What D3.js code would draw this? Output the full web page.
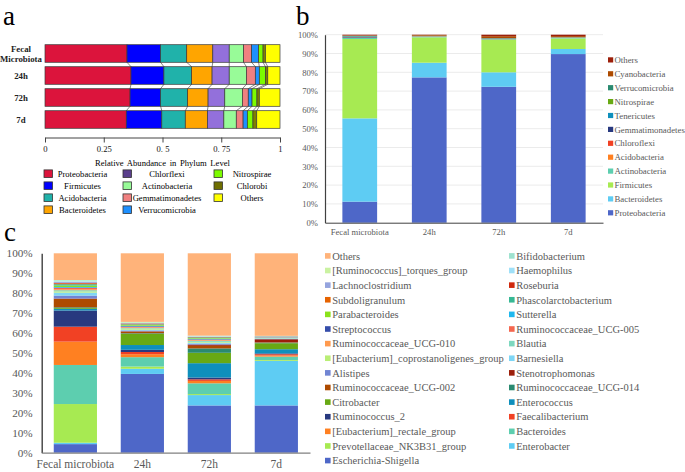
<!DOCTYPE html>
<html><head><meta charset="utf-8">
<script src="https://cdn.jsdelivr.net/npm/d3@7"></script>
<style>
body{margin:0;background:#fff}
svg{display:block}
text{font-family:"Liberation Serif","Times New Roman",serif}
</style>
</head><body>
<svg id="chart" width="685" height="472"></svg>
<script>
// ---------- Panel a data ----------
const aCategories = ["Fecal Microbiota", "24h", "72h", "7d"];
const aPhyla = ["Proteobacteria","Firmicutes","Acidobacteria","Bacteroidetes","Chlorflexi","Actinobacteria","Gemmatimonadetes","Verrucomicrobia","Nitrospirae","Chlorobi","Others"];
const aFecal = [0.349,0.143,0.111,0.111,0.070,0.061,0.034,0.030,0.019,0.010,0.062];
const a24h   = [0.366,0.140,0.118,0.087,0.073,0.073,0.038,0.017,0.026,0.010,0.052];
const a72h   = [0.362,0.130,0.115,0.087,0.071,0.075,0.025,0.016,0.021,0.010,0.088];
const a7d    = [0.346,0.151,0.100,0.094,0.070,0.053,0.029,0.018,0.024,0.016,0.099];
const aTicks = [0, 0.25, 0.5, 0.75, 1];
const aTickLabels = ["0", "0.25", "0. 5", "0. 75", "1"];
const aColors = ["#DC143C","#0000FF","#20B2AA","#FFA500","#9370DB","#98FB98","#F08080","#1E90FF","#7CFC00","#808000","#FFFF00"];
const aLegendColors = ["#DC143C","#0000FF","#20B2AA","#FFA500","#5A3F8C","#98FB98","#F08080","#1E90FF","#7CFC00","#6E6E00","#FFFF00"];

// ---------- Panel b data ----------
const bCategories = ["Fecal microbiota", "24h", "72h", "7d"];
const bPhyla = ["Proteobacteria","Bacteroidetes","Firmicutes","Actinobacteria","Acidobacteria","Chloroflexi","Gemmatimonadetes","Tenericutes","Nitrospirae","Verrucomicrobia","Cyanobacteria","Others"];
const bFecal = [11.2,44.3,42.2,0.6,0.1,0.1,0.3,0.2,0.1,0.3,0.2,0.4];
const b24h   = [77.3,7.8,13.5,0.4,0.1,0.1,0.05,0.05,0.05,0.1,0.4,0.15];
const b72h   = [72.3,7.7,17.2,0.4,0.1,0.1,0.05,0.1,0.05,0.2,1.0,0.8];
const b7d    = [89.7,2.7,5.6,0.3,0.1,0.1,0.05,0.05,0.05,0.1,0.5,0.75];
const bColors = ["#4E67C8","#5ECCF3","#A7EA52","#5DCEAF","#FF8021","#F14124","#28397F","#0E8FBC","#68A914","#2A8A70","#AD4A00","#9C1F0A"];
const pctTicks = [0,10,20,30,40,50,60,70,80,90,100];

// ---------- Panel c data ----------
const cCategories = ["Fecal microbiota", "24h", "72h", "7d"];
const cGenera = ["Escherichia-Shigella","Enterobacter","Prevotellaceae_NK3B31_group","Bacteroides","[Eubacterium]_rectale_group","Faecalibacterium","Ruminococcus_2","Enterococcus","Citrobacter","Ruminococcaceae_UCG-014","Ruminococcaceae_UCG-002","Stenotrophomonas","Alistipes","Barnesiella","[Eubacterium]_coprostanoligenes_group","Blautia","Ruminococcaceae_UCG-010","Ruminococcaceae_UCG-005","Streptococcus","Sutterella","Parabacteroides","Phascolarctobacterium","Subdoligranulum","Roseburia","Lachnoclostridium","Haemophilus","[Ruminococcus]_torques_group","Bifidobacterium","Others"];
const cFecal = [4.3,0.7,19.4,19.6,11.7,7.5,8.1,0.8,0.4,0.4,4.2,0.2,1.5,1.5,0.6,0.6,0.5,0.6,0.2,0.3,0.7,0.7,0.4,0.3,0.5,0.3,0.3,0.3,13.4];
const c24h   = [39.5,2.6,1.1,4.7,1.5,1.1,1.1,2.4,5.6,0.3,0.8,0.2,0.4,0.4,0.5,0.3,0.3,0.3,0.3,0.3,0.4,0.3,0.2,0.2,0.2,0.1,0.3,0.2,34.4];
const c72h   = [23.7,5.2,0.5,5.4,1.2,0.8,0.9,7.2,5.2,2.2,1.3,0.6,0.5,0.5,0.4,0.5,0.3,0.3,0.2,0.3,0.3,0.3,0.1,0.1,0.2,0.2,0.1,0.2,41.3];
const c7d    = [23.7,22.4,0.4,1.7,0.6,0.6,0.4,2.1,3.0,0.3,0.2,1.5,0.2,0.2,0.1,0.3,0.1,0.1,0.05,0.1,0.05,0.1,0.05,0.05,0.15,0.05,0.05,0.05,41.4];
const cColors = ["#4E67C8","#5ECCF3","#A7EA52","#5DCEAF","#FF8021","#F14124","#28397F","#0E8FBC","#68A914","#2A8A70","#AD4A00","#9C1F0A","#7185D3","#7ED6F5","#B9EE75","#7DD8BF","#FF9A4E","#F4674F","#354DAA","#1FB8EE","#8AE21B","#37B894","#E66300","#D0290D","#95A4DE","#9FE0F8","#CAF2A1","#9EE2CF","#FFB37A"];

const svg = d3.select("#chart");
const SERIF = '"Liberation Serif","Times New Roman",serif';
const GREY = "#595959";

function makeTable(cats, keys, rows) {
  return cats.map((c, i) => {
    const o = {cat: c};
    keys.forEach((k, j) => o[k] = rows[i][j]);
    return o;
  });
}

// ================= Panel a =================
(function(){
  const g = svg.append("g");
  g.append("text").attr("x", 3).attr("y", 24.5).attr("font-size", 27).text("a");
  const x = d3.scaleLinear().domain([0,1]).range([45, 280]);
  const y = d3.scaleBand().domain(aCategories).range([42.5, 130.5]).paddingInner(0.2).paddingOuter(0.1);
  const table = makeTable(aCategories, aPhyla, [aFecal, a24h, a72h, a7d]);
  const series = d3.stack().keys(aPhyla)(table);

  // connecting lines between bars
  for (let i = 0; i < aCategories.length - 1; i++) {
    for (let k = 0; k < series.length - 1; k++) {
      g.append("line")
        .attr("x1", x(series[k][i][1])).attr("y1", y(aCategories[i]) + y.bandwidth())
        .attr("x2", x(series[k][i+1][1])).attr("y2", y(aCategories[i+1]))
        .attr("stroke", "#6a6a6a").attr("stroke-width", 0.8);
    }
  }
  series.forEach((s, k) => {
    g.selectAll(null).data(s).enter().append("rect")
      .attr("x", d => x(d[0])).attr("width", d => x(d[1]) - x(d[0]))
      .attr("y", d => y(d.data.cat)).attr("height", y.bandwidth())
      .attr("fill", aColors[k]).attr("stroke", "#3a3a3a").attr("stroke-width", 0.7);
  });

  // category labels
  aCategories.forEach(c => {
    const cy = y(c) + y.bandwidth()/2;
    const parts = c.split(" ");
    const t = g.append("text").attr("text-anchor", "middle").attr("font-size", 8.8).attr("font-weight", "bold").attr("fill", "#222");
    if (parts.length > 1) {
      parts.forEach((p, i) => t.append("tspan").attr("x", 21).attr("y", cy + (i === 0 ? -5 : 5.5)).attr("dy", "0.35em").text(p));
    } else {
      t.attr("x", 21).attr("y", cy).attr("dy", "0.35em").text(c);
    }
  });

  const ax = g.append("g").attr("transform", "translate(0,137.5)")
    .call(d3.axisBottom(x).tickValues(aTicks).tickFormat((d, i) => aTickLabels[i]).tickSize(5).tickSizeOuter(0));
  ax.select(".domain").attr("stroke", "#444");
  ax.selectAll(".tick line").attr("stroke", "#444");
  ax.selectAll("text").attr("font-family", SERIF).attr("font-size", 8.6).attr("fill", "#111");

  g.append("text").attr("x", 162.5).attr("y", 163).attr("dy", "0.35em").attr("text-anchor", "middle")
    .attr("font-size", 8.6).attr("word-spacing", 1.5).text("Relative Abundance in Phylum Level");

  // legend
  const colSw = [44, 123, 214], colTx = [82.5, 167, 252];
  aPhyla.forEach((p, i) => {
    const col = Math.floor(i / 4), row = i % 4;
    const cy = 173.7 + row * 12;
    g.append("rect").attr("x", colSw[col]).attr("y", cy - 3.8).attr("width", 8.5).attr("height", 7.6)
      .attr("fill", aLegendColors[i]).attr("stroke", "#333").attr("stroke-width", 0.8);
    g.append("text").attr("x", colTx[col]).attr("y", cy).attr("dy", "0.35em").attr("text-anchor", "middle")
      .attr("font-size", 8.6).text(p);
  });
})();

// ================= Panel b =================
(function(){
  const g = svg.append("g");
  g.append("text").attr("x", 296).attr("y", 24.5).attr("font-size", 27).text("b");
  const x = d3.scaleBand().domain(bCategories).range([325, 603]).paddingInner(0.5).paddingOuter(0.25);
  const y = d3.scaleLinear().domain([0, 100]).range([222.7, 34.7]);
  const table = makeTable(bCategories, bPhyla, [bFecal, b24h, b72h, b7d]);
  const series = d3.stack().keys(bPhyla)(table);

  g.selectAll(null).data(pctTicks.slice(1)).enter().append("line")
    .attr("x1", 325).attr("x2", 603).attr("y1", d => y(d)).attr("y2", d => y(d))
    .attr("stroke", "#e6e6e6").attr("stroke-width", 0.8);

  series.forEach((s, k) => {
    g.selectAll(null).data(s).enter().append("rect")
      .attr("x", d => x(d.data.cat)).attr("width", x.bandwidth())
      .attr("y", d => y(d[1])).attr("height", d => y(d[0]) - y(d[1]))
      .attr("fill", bColors[k]);
  });

  const ay = g.append("g").attr("transform", "translate(325,0)")
    .call(d3.axisLeft(y).tickValues(pctTicks).tickFormat(d => d + "%").tickSize(0).tickPadding(7));
  ay.select(".domain").attr("stroke", "#404040").attr("stroke-width", 1.2);
  ay.selectAll("text").attr("font-family", SERIF).attr("font-size", 8.6).attr("fill", GREY);

  const axx = g.append("g").attr("transform", "translate(0,222.7)")
    .call(d3.axisBottom(x).tickSize(0).tickPadding(6));
  axx.select(".domain").attr("stroke", "#404040").attr("stroke-width", 1);
  axx.selectAll("text").attr("font-family", SERIF).attr("font-size", 8.6).attr("fill", GREY);

  const legendItems = bPhyla.map((p, i) => ({p, c: bColors[i]})).reverse();
  legendItems.forEach((d, i) => {
    const cy = 60 + i * 13.9;
    g.append("rect").attr("x", 608).attr("y", cy - 2.7).attr("width", 5.2).attr("height", 5.2).attr("fill", d.c);
    g.append("text").attr("x", 614.5).attr("y", cy).attr("dy", "0.35em").attr("font-size", 8.8).attr("fill", GREY).text(d.p);
  });
})();

// ================= Panel c =================
(function(){
  const g = svg.append("g");
  g.append("text").attr("x", 4).attr("y", 241).attr("font-size", 27).text("c");
  const x = d3.scaleBand().domain(cCategories).range([41.7, 310]).paddingInner(0.355).paddingOuter(0.18);
  const y = d3.scaleLinear().domain([0, 100]).range([452.7, 253.3]);
  const table = makeTable(cCategories, cGenera, [cFecal, c24h, c72h, c7d]);
  const series = d3.stack().keys(cGenera)(table);

  series.forEach((s, k) => {
    g.selectAll(null).data(s).enter().append("rect")
      .attr("x", d => x(d.data.cat)).attr("width", x.bandwidth())
      .attr("y", d => y(d[1])).attr("height", d => y(d[0]) - y(d[1]))
      .attr("fill", cColors[k]);
  });

  const ay = g.append("g").attr("transform", "translate(41.7,0)")
    .call(d3.axisLeft(y).tickValues(pctTicks).tickFormat(d => d + "%").tickSize(0).tickPadding(9));
  ay.select(".domain").attr("stroke", "#404040").attr("stroke-width", 1.4);
  ay.selectAll("text").attr("font-family", SERIF).attr("font-size", 11.2).attr("fill", GREY);

  const axx = g.append("g").attr("transform", "translate(0,452.7)")
    .call(d3.axisBottom(x).tickSize(0).tickPadding(7));
  axx.select(".domain").attr("stroke", "#808080").attr("stroke-width", 1.2);
  axx.selectAll("text").attr("font-family", SERIF).attr("font-size", 11.5).attr("fill", GREY);

  const legendItems = cGenera.map((p, i) => ({p, c: cColors[i]})).reverse();
  legendItems.forEach((d, i) => {
    const col = i % 2, row = Math.floor(i / 2);
    const cy = 256 + row * 14.62;
    const sx = col === 0 ? 325 : 509;
    g.append("rect").attr("x", sx).attr("y", cy - 2.9).attr("width", 5.6).attr("height", 5.6).attr("fill", d.c);
    g.append("text").attr("x", sx + 7.2).attr("y", cy).attr("dy", "0.35em").attr("font-size", 10.5).attr("fill", GREY).text(d.p);
  });
})();
</script>
</body></html>
